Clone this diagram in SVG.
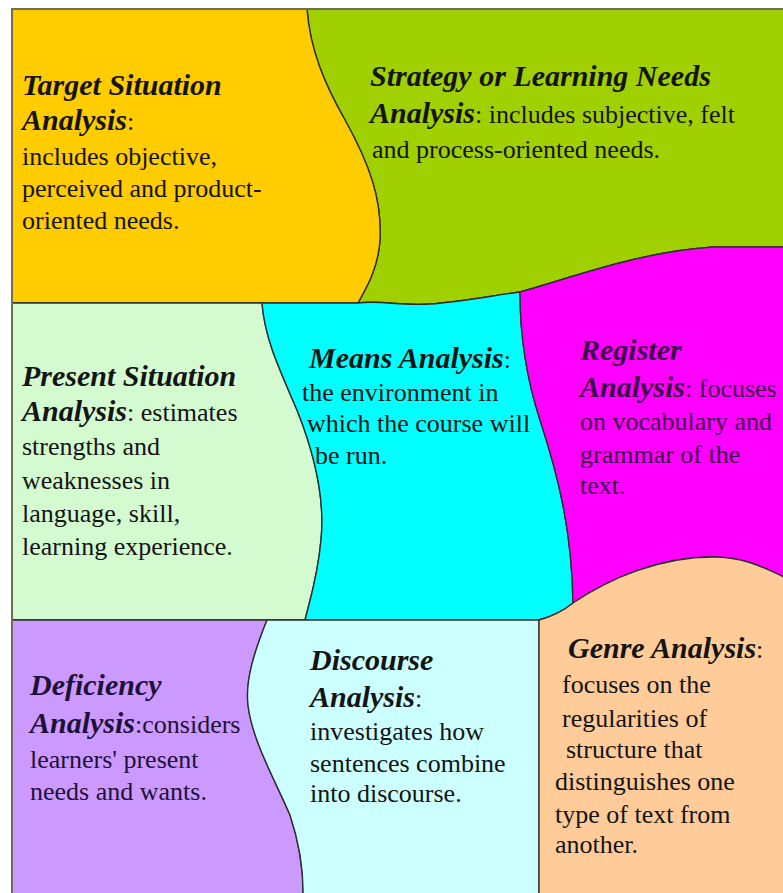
<svg xmlns="http://www.w3.org/2000/svg" width="783" height="893" viewBox="0 0 783 893">
<style>
.r{stroke:#2e2e2e;stroke-width:1.4}
text{font-family:"Liberation Serif","Times New Roman",serif;font-size:26px;fill:#141414}
.h{font-weight:bold;font-style:italic;font-size:30px}
</style>
<rect x="0" y="0" width="783" height="893" fill="#ffffff"/>
<g id="strategy">
<path class="r" fill="#a0d000" d="M307,9 L790,9 L790,247 L713,247 C640,252 580,275 520,292 C490,296 460,302 430,304 C400,306 380,300 358,303 C365,290 378,270 380,240 C382,200 370,165 345,120 C325,85 310,50 307,9 Z"/>
<text x="370" y="86" class="h">Strategy or Learning Needs</text>
<text x="370" y="123"><tspan class="h">Analysis</tspan>: includes subjective, felt</text>
<text x="372" y="158">and process-oriented needs.</text>
</g>
<g id="target">
<path class="r" fill="#ffcc00" d="M12,9 L307,9 C310,50 325,85 345,120 C370,165 382,200 380,240 C378,270 365,290 358,303 L12,303 Z"/>
<text x="22" y="95" class="h">Target Situation</text>
<text x="22" y="130"><tspan class="h">Analysis</tspan>:</text>
<text x="22" y="165">includes objective,</text>
<text x="22" y="197">perceived and product-</text>
<text x="22" y="229">oriented needs.</text>
</g>
<g id="present">
<path class="r" fill="#d4fad0" d="M12,303 L262,303 C265,340 280,370 297,410 C315,455 325,500 321,540 C318,575 310,600 305,620 L12,620 Z"/>
<text x="22" y="386" class="h">Present Situation</text>
<text x="22" y="421"><tspan class="h">Analysis</tspan>: estimates</text>
<text x="22" y="455">strengths and</text>
<text x="22" y="489">weaknesses in</text>
<text x="22" y="522">language, skill,</text>
<text x="22" y="555">learning experience.</text>
</g>
<g id="means">
<path class="r" fill="#00ffff" d="M262,303 L358,303 C380,300 400,306 430,304 C460,302 490,296 520,292 C520,340 527,380 540,420 C558,475 572,530 573,603 C562,612 550,617 539,620 L305,620 C310,600 318,575 321,540 C325,500 315,455 297,410 C280,370 265,340 262,303 Z"/>
<text x="309" y="368"><tspan class="h">Means Analysis</tspan>:</text>
<text x="302" y="401">the environment in</text>
<text x="307" y="432">which the course will</text>
<text x="315" y="464">be run.</text>
</g>
<g id="register">
<path class="r" fill="#ff00ff" d="M520,292 C580,275 640,252 713,247 L790,247 L790,577 L783,577 C765,568 745,557 713,557 C660,557 610,578 573,603 C572,530 558,475 540,420 C527,380 520,340 520,292 Z"/>
<text x="580" y="360" class="h" style="fill:#3a0a48">Register</text>
<text x="580" y="397" style="fill:#3a0a48"><tspan class="h">Analysis</tspan>: focuses</text>
<text x="580" y="430" style="fill:#3a0a48">on vocabulary and</text>
<text x="580" y="463" style="fill:#3a0a48">grammar of the</text>
<text x="580" y="494" style="fill:#3a0a48">text.</text>
</g>
<g id="deficiency">
<path class="r" fill="#cc99ff" d="M12,620 L267,620 C255,650 245,680 248,705 C252,740 275,780 290,815 C300,845 304,870 303,900 L12,900 Z"/>
<text x="30" y="695" class="h" style="fill:#1c1238">Deficiency</text>
<text x="30" y="733" style="fill:#1c1238"><tspan class="h">Analysis</tspan>:considers</text>
<text x="30" y="768" style="fill:#1c1238">learners' present</text>
<text x="30" y="800" style="fill:#1c1238">needs and wants.</text>
</g>
<g id="discourse">
<path class="r" fill="#ccffff" d="M267,620 L539,620 L539,900 L303,900 C304,870 300,845 290,815 C275,780 252,740 248,705 C245,680 255,650 267,620 Z"/>
<text x="310" y="670" class="h">Discourse</text>
<text x="310" y="707"><tspan class="h">Analysis</tspan>:</text>
<text x="310" y="740">investigates how</text>
<text x="310" y="772">sentences combine</text>
<text x="310" y="802">into discourse.</text>
</g>
<g id="genre">
<path class="r" fill="#ffcc99" d="M539,620 C550,617 562,612 573,603 C610,578 660,557 713,557 C745,557 765,568 790,580 L790,900 L539,900 Z"/>
<text x="568" y="658"><tspan class="h">Genre Analysis</tspan>:</text>
<text x="562" y="693">focuses on the</text>
<text x="562" y="727">regularities of</text>
<text x="566" y="758">structure that</text>
<text x="555" y="790">distinguishes one</text>
<text x="555" y="823">type of text from</text>
<text x="555" y="853">another.</text>
</g>
<g id="frame">
<path d="M12,893 L12,9 L783,9" fill="none" stroke="#6e6e52" stroke-width="2"/>
</g>
</svg>
